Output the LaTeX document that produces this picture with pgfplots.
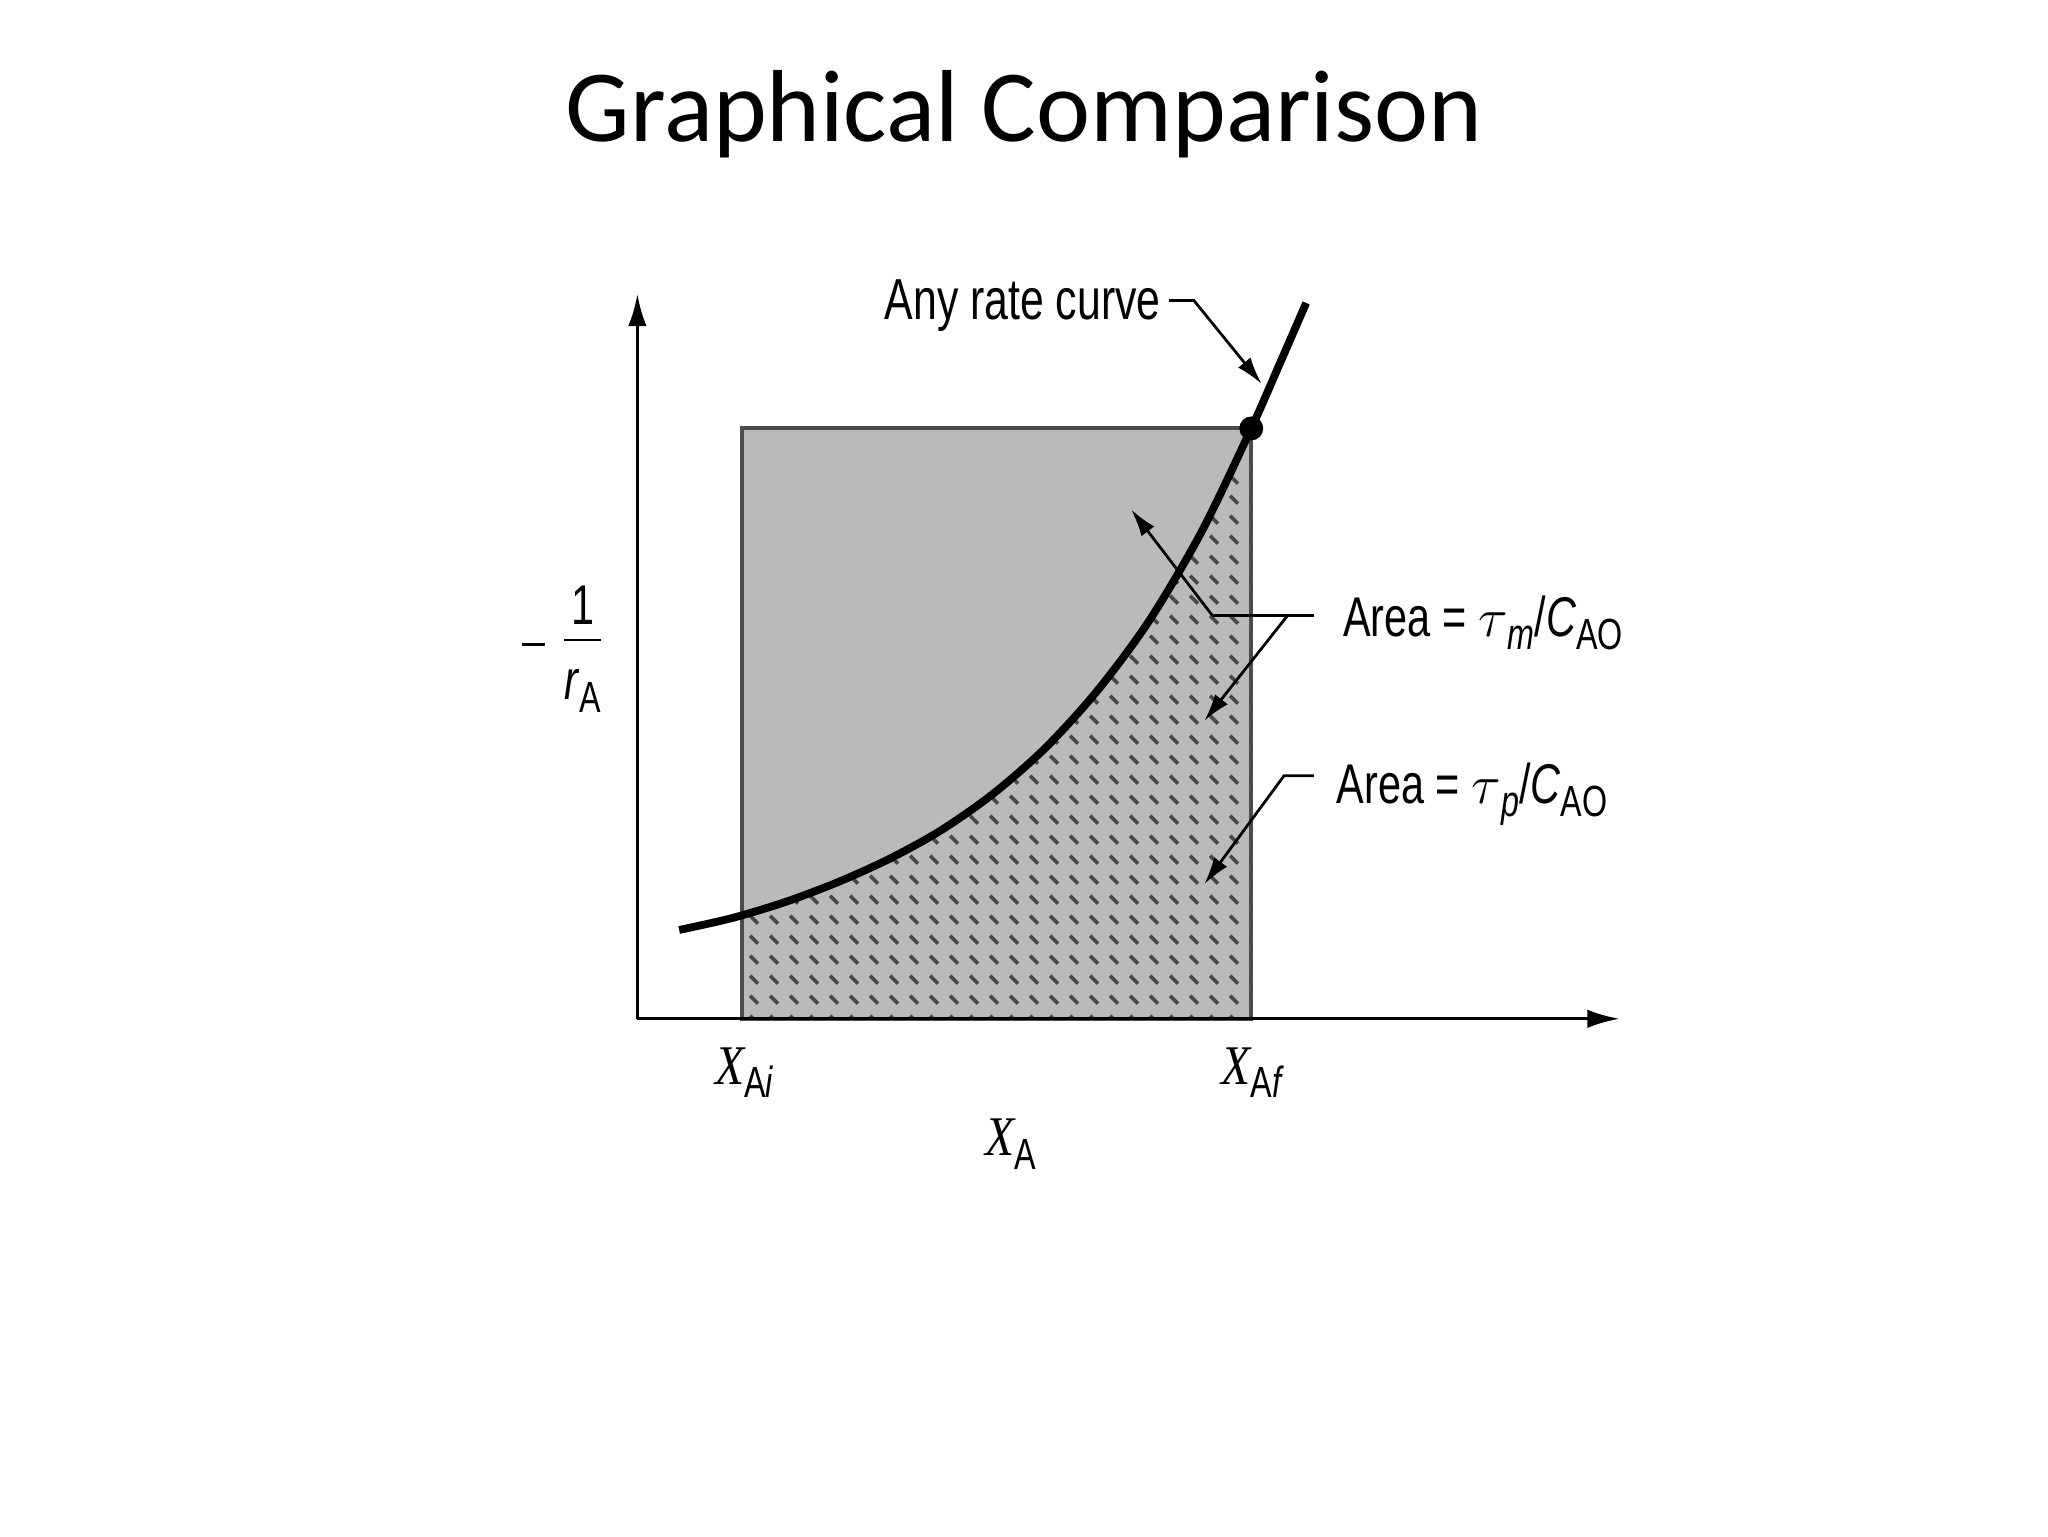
\documentclass[border=0pt]{standalone}
\usepackage{pgfplots}
\pgfplotsset{compat=1.18}
\usepgfplotslibrary{fillbetween}
\usetikzlibrary{arrows.meta,patterns}
\usepackage{fontspec}
\setmainfont{Liberation Sans}[FakeStretch=0.74]
\newfontfamily\titlefont{Carlito}
\newfontfamily\xfont{Liberation Serif}[FakeStretch=0.85]

% dashed diagonal hatch for the plug-flow area
\pgfdeclarepatternformonly{hatchdash}{\pgfpointorigin}{\pgfqpoint{4.4pt}{4.4pt}}{\pgfqpoint{4.4pt}{4.4pt}}{
  \pgfsetlinewidth{0.8pt}
  \pgfpathmoveto{\pgfqpoint{0.7pt}{3.7pt}}
  \pgfpathlineto{\pgfqpoint{2.5pt}{1.9pt}}
  \pgfusepath{stroke}
}

\newcommand{\sub}[1]{\raisebox{-0.45ex}{\fontsize{9.5}{10}\selectfont #1}}
\newcommand{\XX}{{\xfont\itshape X}}

\begin{document}
\begin{tikzpicture}
\begin{axis}[
    width=15.68cm, height=11.76cm,
    scale only axis,
    xmin=-4.88, xmax=10.80,
    ymin=-3.96, ymax=7.80,
    axis lines=none,
    clip=false,
]
\path (-4.88,-3.96) rectangle (10.80,7.80);
% title
\node[font=\titlefont\fontsize{22.3}{26}\selectfont, anchor=base] at (2.96,6.72) {Graphical Comparison};

% mixed-flow rectangle
\addplot[fill=black!27, draw=black!70, line width=0.9pt] coordinates {
    (0.80,0) (0.80,4.52) (4.70,4.52) (4.70,0)
} -- cycle;

% rate curve
\addplot[name path=rate, smooth, draw=none, forget plot] coordinates {
    (0.32,0.68) (0.72,0.77) (1.12,0.89) (1.52,1.04) (1.92,1.22) (2.32,1.44)
    (2.72,1.72) (3.12,2.07) (3.52,2.51) (3.92,3.05) (4.32,3.73) (4.70,4.52)
    (4.92,5.02) (5.12,5.48)
};
\addplot[name path=base, draw=none, forget plot] coordinates {(0,0) (5.2,0)};
\addplot[pattern=hatchdash, pattern color=black!72, draw=none]
    fill between[of=rate and base, soft clip={domain=0.80:4.70}, on layer=main];
\addplot[smooth, line width=1.7pt, black] coordinates {
    (0.32,0.68) (0.72,0.77) (1.12,0.89) (1.52,1.04) (1.92,1.22) (2.32,1.44)
    (2.72,1.72) (3.12,2.07) (3.52,2.51) (3.92,3.05) (4.32,3.73) (4.70,4.52)
    (4.92,5.02) (5.12,5.48)
};
\addplot[only marks, mark=*, mark size=2.4pt, black] coordinates {(4.70,4.52)};

% axes
\draw[line width=0.7pt, -{Latex[length=7pt,width=4pt]}] (0,0) -- (7.52,0);
\draw[line width=0.7pt, -{Latex[length=7pt,width=4pt]}] (0,0) -- (0,5.55);

% labels
\node[anchor=base, font=\fontsize{12.2}{14}\selectfont] at (0.82,-0.50) {\XX\sub{A\textit{i}}};
\node[anchor=base, font=\fontsize{12.2}{14}\selectfont] at (4.71,-0.50) {\XX\sub{A\textit{f}}};
\node[anchor=base, font=\fontsize{12.2}{14}\selectfont] at (2.86,-1.05) {\XX\sub{A}};
\node[font=\fontsize{12.2}{14}\selectfont] at (-0.58,2.83)
    {\rule[0.3em]{0.4em}{0.7pt}\hspace{0.35em}\begin{tabular}{@{}c@{}}1\\[-1pt]\hline\rule{0pt}{1.05em}\textit{r}\sub{A}\end{tabular}};

% annotations
\node[anchor=base east, font=\fontsize{12.6}{14}\selectfont] at (4.13,5.35) {Any rate curve};
\draw[line width=0.6pt, -{Latex[length=6pt,width=3.5pt]}] (4.07,5.50) -- (4.26,5.50) -- (4.78,4.86);

\node[anchor=base west, font=\fontsize{12.2}{14}\selectfont] at (5.28,2.93)
    {Area = $\tau$\sub{\textit{m}}/\textit{C}\sub{AO}};
\draw[line width=0.6pt] (4.40,3.09) -- (5.18,3.09);
\draw[line width=0.6pt, -{Latex[length=6pt,width=3.5pt]}] (4.40,3.09) -- (3.78,3.90);
\draw[line width=0.6pt, -{Latex[length=6pt,width=3.5pt]}] (4.98,3.09) -- (4.34,2.28);

\node[anchor=base west, font=\fontsize{12.2}{14}\selectfont] at (5.23,1.65)
    {Area = $\tau$\sub{\textit{p}}/\textit{C}\sub{AO}};
\draw[line width=0.6pt, -{Latex[length=6pt,width=3.5pt]}] (5.18,1.86) -- (4.95,1.86) -- (4.34,1.03);
\end{axis}
\end{tikzpicture}
\end{document}
